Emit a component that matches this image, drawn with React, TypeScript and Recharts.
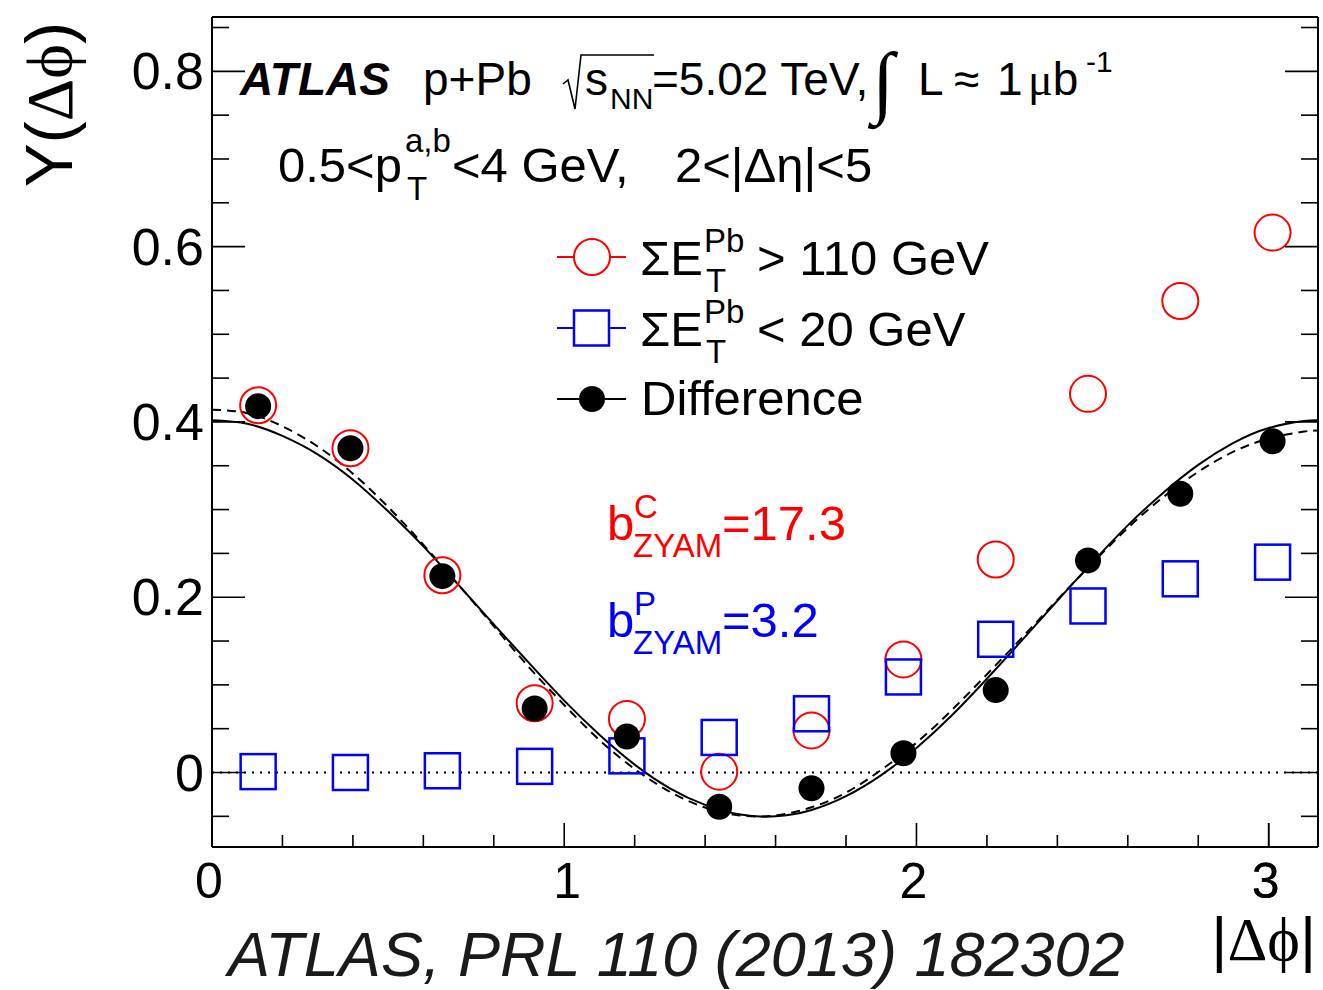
import React from "react";
import { ComposedChart, Line, Scatter, XAxis, YAxis, ReferenceLine, Customized } from "recharts";

// |dphi| bin centres (pi/12 bins)
const binCenters = [0.131, 0.393, 0.654, 0.916, 1.178, 1.44, 1.702, 1.963, 2.225, 2.487, 2.749, 3.011];
// sum E_T^Pb > 110 GeV
const highEtValues = [0.419, 0.37, 0.225, 0.079, 0.061, 0.001, 0.048, 0.129, 0.243, 0.432, 0.538, 0.616];
// sum E_T^Pb < 20 GeV
const lowEtValues = [0.001, 0.0, 0.002, 0.007, 0.019, 0.04, 0.067, 0.109, 0.152, 0.19, 0.221, 0.24];
// difference
const diffValues = [0.418, 0.37, 0.224, 0.073, 0.041, -0.039, -0.018, 0.022, 0.094, 0.242, 0.318, 0.378];

// fit curves sampled along |dphi|
const fitPhi = [
  0, 0.1, 0.2, 0.3, 0.4, 0.5, 0.6, 0.7, 0.8, 0.9, 1.0, 1.1, 1.2, 1.3, 1.4, 1.5,
  1.6, 1.7, 1.8, 1.9, 2.0, 2.1, 2.2, 2.3, 2.4, 2.5, 2.6, 2.7, 2.8, 2.9, 3.0, 3.1, 3.14,
];
const fitSolid = [
  0.402, 0.398, 0.384, 0.363, 0.334, 0.298, 0.258, 0.214, 0.169, 0.125, 0.082, 0.043, 0.009, -0.018, -0.037, -0.048,
  -0.05, -0.043, -0.027, -0.003, 0.028, 0.065, 0.107, 0.151, 0.196, 0.24, 0.282, 0.319, 0.351, 0.376, 0.393, 0.401, 0.402,
];
const fitDashed = [
  0.414, 0.41, 0.395, 0.372, 0.341, 0.303, 0.26, 0.214, 0.167, 0.12, 0.077, 0.037, 0.004, -0.022, -0.04, -0.049,
  -0.049, -0.04, -0.023, 0.003, 0.034, 0.071, 0.112, 0.154, 0.197, 0.239, 0.279, 0.314, 0.343, 0.366, 0.381, 0.389, 0.39,
];

const xMajorTicks = [0, 1, 2, 3];
const xMinorTicks = [0.2, 0.4, 0.6, 0.8, 1.2, 1.4, 1.6, 1.8, 2.2, 2.4, 2.6, 2.8, 3.0];
const yMajorTicks = [0, 0.2, 0.4, 0.6, 0.8];
const yMinorTicks = [-0.05, 0.05, 0.1, 0.15, 0.25, 0.3, 0.35, 0.45, 0.5, 0.55, 0.65, 0.7, 0.75, 0.85];

const xTicks = [...xMajorTicks, ...xMinorTicks].sort((a, b) => a - b);
const yTicks = [...yMajorTicks, ...yMinorTicks].sort((a, b) => a - b);

const X_DOMAIN: [number, number] = [0, 3.14];
const Y_DOMAIN: [number, number] = [-0.085, 0.862];

const FONT = "'Liberation Sans', Arial, Helvetica, sans-serif";
const SERIF = "'Liberation Serif', 'Times New Roman', serif";

const toPoints = (xs: number[], ys: number[]) => xs.map((x, i) => ({ x, y: ys[i] }));
const highEt = toPoints(binCenters, highEtValues);
const lowEt = toPoints(binCenters, lowEtValues);
const diff = toPoints(binCenters, diffValues);
const solidFit = toPoints(fitPhi, fitSolid);
const dashedFit = toPoints(fitPhi, fitDashed);

const frame = { stroke: "#000", strokeWidth: 2 };
const TICK_W = 1.6;

// ROOT style ticks: drawn inward from the frame, long for majors, short for minors.
// Tick size/margin are zero, so (x, y) arrives on the frame line itself.
const bottomTick = (p: any) => {
  const v = p.payload.value;
  const major = xMajorTicks.includes(v);
  // the "1" glyph sits left in its box, nudge it back under its tick
  const nudge = v === 1 ? 3 : -3;
  return (
    <g>
      <line x1={p.x} y1={p.y} x2={p.x} y2={p.y - (major ? 24 : 12)} stroke="#000" strokeWidth={TICK_W} />
      {major && (
        <text x={p.x + nudge} y={p.y + 51} textAnchor="middle" fontSize={50} fontFamily={FONT} fill="#000">
          {v}
        </text>
      )}
    </g>
  );
};
const topTick = (p: any) => {
  const major = xMajorTicks.includes(p.payload.value);
  return <line x1={p.x} y1={p.y} x2={p.x} y2={p.y + (major ? 24 : 12)} stroke="#000" strokeWidth={TICK_W} />;
};
const leftTick = (p: any) => {
  const v = p.payload.value;
  const major = yMajorTicks.includes(v);
  return (
    <g>
      <line x1={p.x} y1={p.y} x2={p.x + (major ? 33 : 17)} y2={p.y} stroke="#000" strokeWidth={TICK_W} />
      {major && (
        <text x={p.x - 8} y={p.y + 18} textAnchor="end" fontSize={52} fontFamily={FONT} fill="#000">
          {v === 0 ? "0" : v.toFixed(1)}
        </text>
      )}
    </g>
  );
};
const rightTick = (p: any) => {
  const major = yMajorTicks.includes(p.payload.value);
  return <line x1={p.x} y1={p.y} x2={p.x - (major ? 33 : 17)} y2={p.y} stroke="#000" strokeWidth={TICK_W} />;
};

const openCircle = (p: any) => (
  <circle cx={p.cx} cy={p.cy} r={18} fill="none" stroke="#ff0000" strokeWidth={2} />
);
const openSquare = (p: any) => (
  <rect x={p.cx - 17.5} y={p.cy - 17.5} width={35} height={35} fill="none" stroke="#0000ff" strokeWidth={2.5} />
);
const fullDot = (p: any) => <circle cx={p.cx} cy={p.cy} r={13} fill="#000" />;

// E_T^Pb with stacked sub/superscript, as ROOT draws it
const SumEt = ({ x, y, tail }: { x: number; y: number; tail: string }) => (
  <g>
    <text x={x} y={y} fontSize={49}>ΣE</text>
    <text x={x + 64} y={y - 23} fontSize={33}>Pb</text>
    <text x={x + 66} y={y + 17} fontSize={33}>T</text>
    <text x={x + 117} y={y} fontSize={49}>{tail}</text>
  </g>
);

const Bzyam = ({ y, sup, value, color }: { y: number; sup: string; value: string; color: string }) => (
  <g fill={color}>
    <text x={607} y={y} fontSize={49}>b</text>
    <text x={634} y={y - 22} fontSize={33}>{sup}</text>
    <text x={633} y={y + 17} fontSize={33}>ZYAM</text>
    <text x={722} y={y} fontSize={49}>{value}</text>
  </g>
);

const Annotations = () => (
  <g fontFamily={FONT} fill="#000">
    {/* axis titles */}
    <text transform="translate(72,22) rotate(-90)" textAnchor="end" fontSize={66}>
      Y(<tspan fontFamily={SERIF}>Δϕ</tspan>)
    </text>
    <text x={1316} y={960} textAnchor="end" fontSize={62}>
      |<tspan fontFamily={SERIF}>Δϕ</tspan>|
    </text>
    <text x={228} y={976} fontSize={63} fontStyle="italic" fill="#1a1a1a">
      ATLAS, PRL 110 (2013) 182302
    </text>

    {/* header line 1 */}
    <text x={240} y={95} fontSize={46} fontWeight="bold" fontStyle="italic">ATLAS</text>
    <text x={423} y={95} fontSize={46}>p+Pb</text>
    <path d="M563,84 L568,80 L575,109 L581,55 L654,55" fill="none" stroke="#000" strokeWidth={1.6} />
    <text x={585} y={95} fontSize={46}>s</text>
    <text x={610} y={109} fontSize={30}>NN</text>
    <text x={652} y={95} fontSize={46}>=5.02 TeV,</text>
    <text x={872} y={108} fontSize={80} fontFamily={SERIF}>∫</text>
    <text x={918} y={95} fontSize={46}>L</text>
    <text x={954} y={95} fontSize={46}>≈</text>
    <text x={997} y={95} fontSize={46}>1</text>
    <text x={1028} y={95} fontSize={46}><tspan fontFamily={SERIF}>μ</tspan>b</text>
    <text x={1086} y={72} fontSize={30}>-1</text>

    {/* header line 2 */}
    <text x={278} y={182} fontSize={49}>0.5&lt;p</text>
    <text x={405} y={152} fontSize={33}>a,b</text>
    <text x={407} y={200} fontSize={33}>T</text>
    <text x={452} y={182} fontSize={49}>&lt;4 GeV,</text>
    <text x={675} y={182} fontSize={49}>2&lt;|Δη|&lt;5</text>

    {/* legend */}
    <line x1={557} y1={257} x2={626} y2={257} stroke="#ff0000" strokeWidth={2} />
    <circle cx={592} cy={257} r={18} fill="#fff" stroke="#ff0000" strokeWidth={2} />
    <line x1={557} y1={328} x2={626} y2={328} stroke="#0000ff" strokeWidth={2} />
    <rect x={574} y={310.5} width={35} height={35} fill="#fff" stroke="#0000ff" strokeWidth={2.5} />
    <line x1={557} y1={399} x2={626} y2={399} stroke="#000" strokeWidth={2} />
    <circle cx={592} cy={399} r={13} fill="#000" />
    <SumEt x={640} y={275} tail="> 110 GeV" />
    <SumEt x={640} y={346} tail="< 20 GeV" />
    <text x={641} y={415} fontSize={49}>Difference</text>

    {/* pedestal values */}
    <Bzyam y={540} sup="C" value="=17.3" color="#ff0000" />
    <Bzyam y={637} sup="P" value="=3.2" color="#0000ff" />
  </g>
);

export default function App() {
  return (
    <div style={{ position: "absolute", left: 0, top: 0, width: 1323, height: 990, background: "#fff" }}>
      <ComposedChart width={1323} height={990} margin={{ top: 17, right: 5, bottom: 143, left: 212 }}>
        <XAxis xAxisId="main" dataKey="x" type="number" domain={X_DOMAIN} allowDataOverflow ticks={xTicks}
          interval={0} orientation="bottom" mirror height={1} tickSize={0} tickMargin={0} tick={bottomTick}
          axisLine={frame} tickLine={false} />
        <XAxis xAxisId="top" type="number" domain={X_DOMAIN} allowDataOverflow ticks={xTicks}
          interval={0} orientation="top" mirror height={1} tickSize={0} tickMargin={0} tick={topTick}
          axisLine={frame} tickLine={false} />
        <YAxis yAxisId="main" type="number" domain={Y_DOMAIN} allowDataOverflow ticks={yTicks}
          interval={0} orientation="left" mirror width={1} tickSize={0} tickMargin={0} tick={leftTick}
          axisLine={frame} tickLine={false} />
        <YAxis yAxisId="right" type="number" domain={Y_DOMAIN} allowDataOverflow ticks={yTicks}
          interval={0} orientation="right" mirror width={1} tickSize={0} tickMargin={0} tick={rightTick}
          axisLine={frame} tickLine={false} />

        <ReferenceLine xAxisId="main" yAxisId="main" y={0} stroke="#000" strokeWidth={2} strokeDasharray="2 6" />

        <Line xAxisId="main" yAxisId="main" data={solidFit} dataKey="y" type="natural" stroke="#000"
          strokeWidth={2} dot={false} activeDot={false} isAnimationActive={false} />
        <Line xAxisId="main" yAxisId="main" data={dashedFit} dataKey="y" type="natural" stroke="#000"
          strokeWidth={2} strokeDasharray="9 6" dot={false} activeDot={false} isAnimationActive={false} />

        <Scatter xAxisId="main" yAxisId="main" data={highEt} dataKey="y" shape={openCircle} isAnimationActive={false} />
        <Scatter xAxisId="main" yAxisId="main" data={lowEt} dataKey="y" shape={openSquare} isAnimationActive={false} />
        <Scatter xAxisId="main" yAxisId="main" data={diff} dataKey="y" shape={fullDot} isAnimationActive={false} />

        <Customized component={<Annotations />} />
      </ComposedChart>
    </div>
  );
}
